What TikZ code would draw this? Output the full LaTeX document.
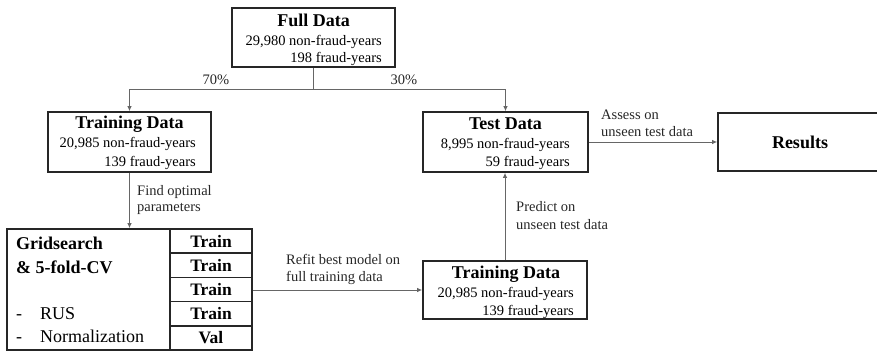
\documentclass[tikz,border=0pt]{standalone}
\usepackage{fontspec}
\setmainfont{Liberation Serif}
\usetikzlibrary{arrows.meta}
\begin{document}
\begin{tikzpicture}[x=1pt,y=-1pt,
 box/.style={draw=black!85, line width=1.6pt, inner sep=0pt, rectangle},
 ttl/.style={font=\fontsize{18}{20}\selectfont\bfseries, inner sep=0pt, anchor=base},
 txt/.style={font=\fontsize{14.5}{17}\selectfont, inner sep=0pt, anchor=base east},
 lbl/.style={font=\fontsize{14.5}{17}\selectfont, inner sep=0pt, anchor=base west, text=black!85},
 conn/.style={draw=black!60, line width=0.9pt},
 arr/.style={conn, -{Latex[length=5pt,width=4.5pt]}},
 cell/.style={draw=black!85, line width=1.6pt, minimum width=82pt, minimum height=24.2pt, inner sep=0pt, font=\fontsize{17.5}{19}\selectfont\bfseries},
 gtxt/.style={font=\fontsize{18}{20}\selectfont, inner sep=0pt, anchor=base west}
]
\useasboundingbox (0,0) rectangle (877,352);

% Full Data
\node[box, minimum width=163pt, minimum height=59pt] (full) at (313.5,37.5) {};
\node[ttl] (fullT) at (313.5,27) {Full Data};
\node[txt] (fullA) at (382,46) {29,980 non-fraud-years};
\node[txt] (fullB) at (382,63) {198 fraud-years};

% Training Data (top left)
\node[box, minimum width=163pt, minimum height=60pt] (trainA) at (129.5,142) {};
\node[ttl] (trainAT) at (129.5,129) {Training Data};
\node[txt] (trainAa) at (196,148) {20,985 non-fraud-years};
\node[txt] (trainAb) at (196,167) {139 fraud-years};

% Test Data
\node[box, minimum width=165pt, minimum height=60pt] (test) at (505.5,142) {};
\node[ttl] (testT) at (505.5,130) {Test Data};
\node[txt] (testa) at (570,149) {8,995 non-fraud-years};
\node[txt] (testb) at (570,167) {59 fraud-years};

% Results
\node[box, minimum width=180pt, minimum height=58pt] (results) at (808,142) {};
\node[ttl] (resultsT) at (800,149) {Results};

% Training Data (bottom)
\node[box, minimum width=164pt, minimum height=58pt] (trainB) at (505,290) {};
\node[ttl] (trainBT) at (506,279) {Training Data};
\node[txt] (trainBa) at (574,298) {20,985 non-fraud-years};
\node[txt] (trainBb) at (574,316) {139 fraud-years};

% Gridsearch box
\node[box, minimum width=245pt, minimum height=121pt] (grid) at (129.5,289.5) {};
\node[gtxt, font=\fontsize{18}{20}\selectfont\bfseries] (g1) at (16,250) {Gridsearch};
\node[gtxt, font=\fontsize{18}{20}\selectfont\bfseries] (g2) at (16,273) {\& 5-fold-CV};
\node[gtxt] (g3) at (16,319) {\makebox[24pt][l]{-}RUS};
\node[gtxt] (g4) at (16,342) {\makebox[24pt][l]{-}Normalization};
\node[cell] (c1) at (211,241.1) {Train};
\node[cell] (c2) at (211,265.3) {Train};
\node[cell] (c3) at (211,289.5) {Train};
\node[cell] (c4) at (211,313.7) {Train};
\node[cell] (c5) at (211,337.9) {Val};

% connectors
\coordinate (split) at (313.5,89);
\draw[conn] (full.south) -- (split);
\draw[arr] (split) -| (trainA.north);
\draw[arr] (split) -| (test.north);
\node[font=\fontsize{14.5}{17}\selectfont, inner sep=0pt, anchor=base, text=black!85] (p70) at (216,85) {70\%};
\node[font=\fontsize{14.5}{17}\selectfont, inner sep=0pt, anchor=base, text=black!85] (p30) at (404,85) {30\%};

\draw[arr] (trainA.south) -- (grid.north);
\node[lbl] (lf1) at (137,196) {Find optimal};
\node[lbl] (lf2) at (137,212) {parameters};

\draw[arr] (grid.east |- trainB.west) -- (trainB.west);
\node[lbl] (lr1) at (286,265) {Refit best model on};
\node[lbl] (lr2) at (286,282) {full training data};

\draw[arr] (trainB.north) -- (trainB.north |- test.south);
\node[lbl] (lp1) at (516,212) {Predict on};
\node[lbl] (lp2) at (516,230) {unseen test data};

\draw[arr] (test.east) -- (results.west);
\node[lbl] (la1) at (601,120) {Assess on};
\node[lbl] (la2) at (601,137) {unseen test data};
\end{tikzpicture}
\end{document}
